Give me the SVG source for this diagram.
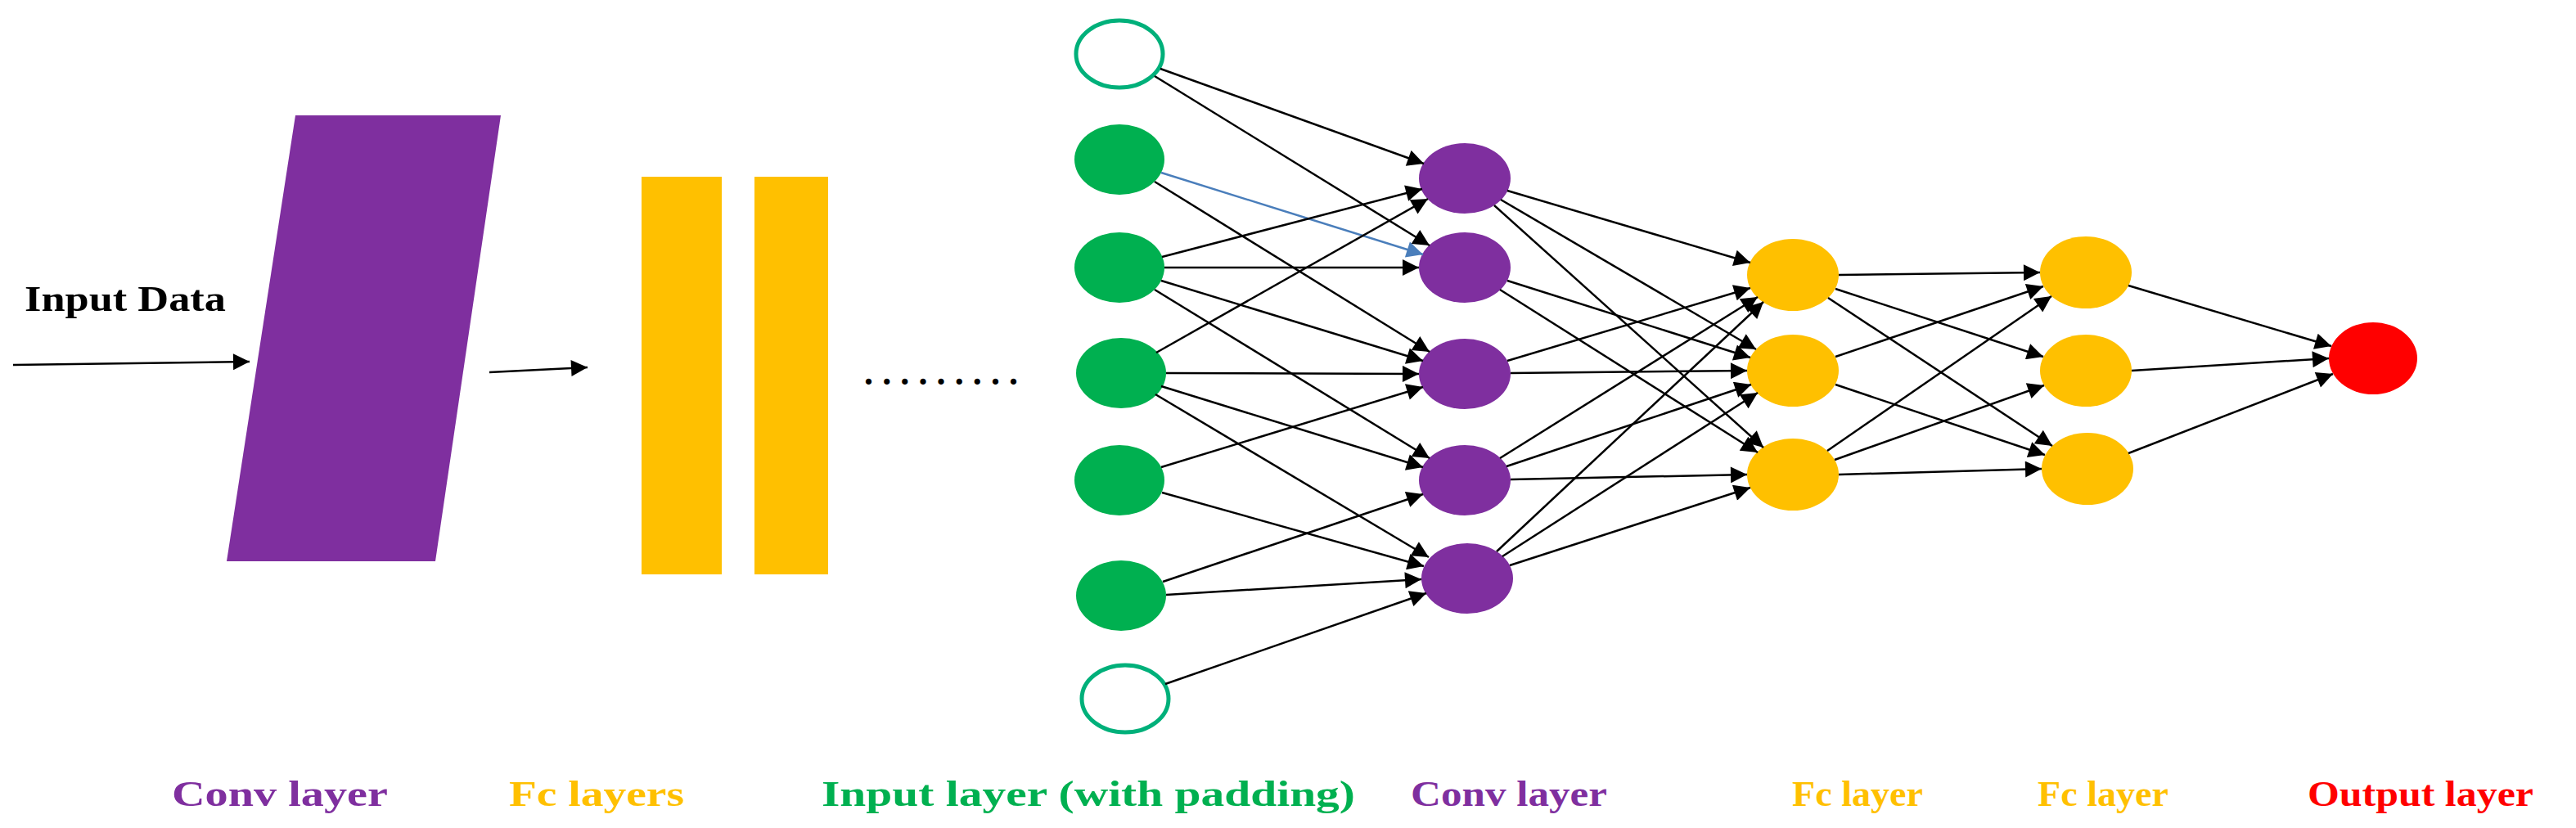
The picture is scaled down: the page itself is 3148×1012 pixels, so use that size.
<svg xmlns="http://www.w3.org/2000/svg" width="3148" height="1012" viewBox="0 0 3148 1012">
<style>
.e{stroke:#000;stroke-width:2.5;fill:none;marker-end:url(#ah)}
.b{stroke:#4a7ebb;stroke-width:2.5;fill:none;marker-end:url(#ahb)}
.t{font-family:"Liberation Serif",serif;font-weight:bold;font-size:44px}
.g{fill:#00b050}.p{fill:#7f2f9f}.y{fill:#ffc000}
.h{fill:#fff;stroke:#00b07a;stroke-width:5}
</style>
<defs>
<marker id="ah" viewBox="0 0 10 10" refX="10" refY="5" markerWidth="24" markerHeight="20" markerUnits="userSpaceOnUse" orient="auto"><path d="M0,0L10,5L0,10z" fill="#000"/></marker>
<marker id="ahb" viewBox="0 0 10 10" refX="10" refY="5" markerWidth="24" markerHeight="20" markerUnits="userSpaceOnUse" orient="auto"><path d="M0,0L10,5L0,10z" fill="#4a7ebb"/></marker>
</defs>
<rect width="3148" height="1012" fill="#fff"/>
<g id="input-data"><text class="t" x="30" y="380" font-size="36" textLength="246" lengthAdjust="spacingAndGlyphs">Input Data</text></g>
<g id="conv-block"><polygon points="361,141 612,141 532,686 277,686" fill="#7f2f9f"/></g>
<g id="fc-bars"><rect x="784" y="216" width="98" height="486" class="y"/><rect x="922" y="216" width="90" height="486" class="y"/></g>
<g id="dots"><text class="t" x="1056" y="470" font-size="44" textLength="188" lengthAdjust="spacing">.........</text></g>
<g id="input-layer">
<ellipse cx="1368" cy="66" rx="53" ry="41" class="h"/>
<ellipse cx="1368" cy="195" rx="55" ry="43" class="g"/>
<ellipse cx="1368" cy="327" rx="55" ry="43" class="g"/>
<ellipse cx="1370" cy="456" rx="55" ry="43" class="g"/>
<ellipse cx="1368" cy="587" rx="55" ry="43" class="g"/>
<ellipse cx="1370" cy="728" rx="55" ry="43" class="g"/>
<ellipse cx="1375" cy="854" rx="53" ry="41" class="h"/>
</g>
<g id="conv-layer">
<ellipse cx="1790" cy="218" rx="56" ry="43" class="p"/>
<ellipse cx="1790" cy="327" rx="56" ry="43" class="p"/>
<ellipse cx="1790" cy="457" rx="56" ry="43" class="p"/>
<ellipse cx="1790" cy="587" rx="56" ry="43" class="p"/>
<ellipse cx="1793" cy="707" rx="56" ry="43" class="p"/>
</g>
<g id="fc-layer-1">
<ellipse cx="2191" cy="336" rx="56" ry="44" class="y"/>
<ellipse cx="2191" cy="453" rx="56" ry="44" class="y"/>
<ellipse cx="2191" cy="580" rx="56" ry="44" class="y"/>
</g>
<g id="fc-layer-2">
<ellipse cx="2549" cy="333" rx="56" ry="44" class="y"/>
<ellipse cx="2549" cy="453" rx="56" ry="44" class="y"/>
<ellipse cx="2551" cy="573" rx="56" ry="44" class="y"/>
</g>
<g id="output-layer"><ellipse cx="2900" cy="438" rx="54" ry="44" fill="#ff0000"/></g>
<g id="connectors">
<line class="e" x1="16" y1="446" x2="305" y2="442"/>
<line class="e" x1="598" y1="455" x2="718" y2="449"/>
<line class="e" x1="1418" y1="84" x2="1740" y2="200"/>
<line class="e" x1="1411" y1="93" x2="1747" y2="300"/>
<line class="b" x1="1419" y1="211" x2="1739" y2="311"/>
<line class="e" x1="1411" y1="222" x2="1747" y2="430"/>
<line class="e" x1="1420" y1="314" x2="1738" y2="231"/>
<line class="e" x1="1423" y1="327" x2="1734" y2="327"/>
<line class="e" x1="1419" y1="343" x2="1739" y2="441"/>
<line class="e" x1="1411" y1="354" x2="1747" y2="560"/>
<line class="e" x1="1413" y1="431" x2="1745" y2="243"/>
<line class="e" x1="1425" y1="456" x2="1734" y2="457"/>
<line class="e" x1="1419" y1="472" x2="1739" y2="571"/>
<line class="e" x1="1412" y1="482" x2="1746" y2="681"/>
<line class="e" x1="1419" y1="571" x2="1739" y2="473"/>
<line class="e" x1="1420" y1="602" x2="1740" y2="692"/>
<line class="e" x1="1421" y1="711" x2="1739" y2="604"/>
<line class="e" x1="1425" y1="727" x2="1737" y2="708"/>
<line class="e" x1="1424" y1="836" x2="1743" y2="725"/>
<line class="e" x1="1842" y1="233" x2="2139" y2="321"/>
<line class="e" x1="1834" y1="244" x2="2146" y2="427"/>
<line class="e" x1="1826" y1="251" x2="2155" y2="547"/>
<line class="e" x1="1842" y1="343" x2="2139" y2="437"/>
<line class="e" x1="1833" y1="354" x2="2148" y2="553"/>
<line class="e" x1="1842" y1="441" x2="2139" y2="352"/>
<line class="e" x1="1846" y1="456" x2="2135" y2="453"/>
<line class="e" x1="1833" y1="560" x2="2148" y2="363"/>
<line class="e" x1="1841" y1="570" x2="2140" y2="470"/>
<line class="e" x1="1846" y1="586" x2="2135" y2="580"/>
<line class="e" x1="1829" y1="674" x2="2155" y2="369"/>
<line class="e" x1="1836" y1="680" x2="2148" y2="480"/>
<line class="e" x1="1845" y1="691" x2="2139" y2="596"/>
<line class="e" x1="2247" y1="336" x2="2493" y2="333"/>
<line class="e" x1="2243" y1="353" x2="2497" y2="436"/>
<line class="e" x1="2234" y1="364" x2="2508" y2="545"/>
<line class="e" x1="2243" y1="436" x2="2497" y2="350"/>
<line class="e" x1="2243" y1="470" x2="2499" y2="556"/>
<line class="e" x1="2233" y1="551" x2="2507" y2="362"/>
<line class="e" x1="2242" y1="562" x2="2498" y2="471"/>
<line class="e" x1="2247" y1="580" x2="2495" y2="573"/>
<line class="e" x1="2601" y1="349" x2="2849" y2="423"/>
<line class="e" x1="2605" y1="453" x2="2846" y2="438"/>
<line class="e" x1="2601" y1="554" x2="2851" y2="457"/>
</g>
<g id="labels">
<text class="t" x="210" y="985" fill="#7f2f9f" textLength="264" lengthAdjust="spacingAndGlyphs">Conv layer</text>
<text class="t" x="622" y="985" fill="#ffc000" textLength="214" lengthAdjust="spacingAndGlyphs">Fc layers</text>
<text class="t" x="1004" y="985" fill="#00b050" textLength="652" lengthAdjust="spacingAndGlyphs">Input layer (with padding)</text>
<text class="t" x="1724" y="985" fill="#7f2f9f" textLength="240" lengthAdjust="spacingAndGlyphs">Conv layer</text>
<text class="t" x="2190" y="985" fill="#ffc000" textLength="160" lengthAdjust="spacingAndGlyphs">Fc layer</text>
<text class="t" x="2490" y="985" fill="#ffc000" textLength="160" lengthAdjust="spacingAndGlyphs">Fc layer</text>
<text class="t" x="2820" y="985" fill="#ff0000" textLength="276" lengthAdjust="spacingAndGlyphs">Output layer</text>
</g>
</svg>
